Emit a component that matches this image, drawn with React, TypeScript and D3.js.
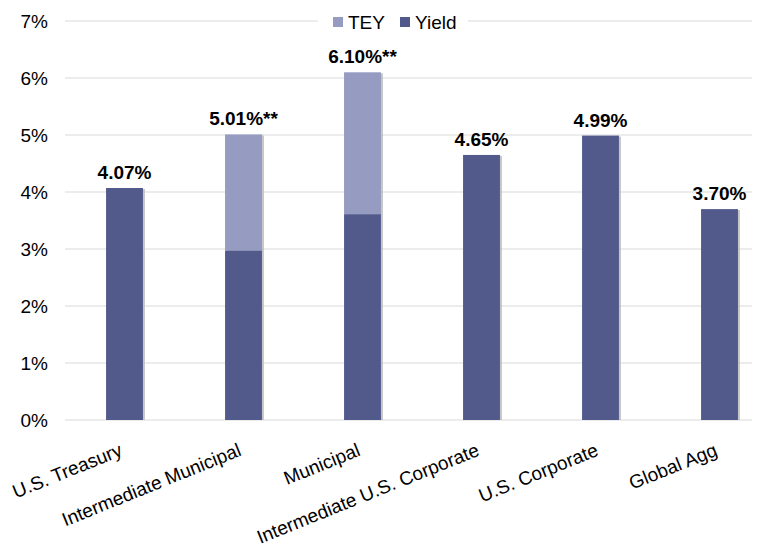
import React from "react";
import * as d3 from "d3";

const categories = [
  "U.S. Treasury",
  "Intermediate Municipal",
  "Municipal",
  "Intermediate U.S. Corporate",
  "U.S. Corporate",
  "Global Agg",
];
const yieldValues = [4.07, 2.97, 3.61, 4.65, 4.99, 3.7];
const teyValues = [null, 5.01, 6.1, null, null, null];
const valueLabels = ["4.07%", "5.01%**", "6.10%**", "4.65%", "4.99%", "3.70%"];
const yTicks = [0, 1, 2, 3, 4, 5, 6, 7];
const legendItems = ["TEY", "Yield"];

const W = 758;
const H = 550;
const YIELD_COLOR = "#525a8c";
const TEY_COLOR = "#959bc1";
const FONT = "Arial, 'Liberation Sans', sans-serif";

export default function App() {
  const y = d3.scaleLinear().domain([0, 7]).range([420, 21]);
  const x = d3
    .scaleBand<string>()
    .domain(categories)
    .range([65, 65 + 119 * categories.length])
    .paddingInner(0.69)
    .paddingOuter(0.345);
  const bw = x.bandwidth();
  const gridLeft = 65;
  const gridRight = 752;

  return (
    <svg width={W} height={H} style={{ position: "absolute", left: 0, top: 0, background: "#fff" }}>
      {yTicks.map((t) =>
        t === 7 ? (
          <g key={t}>
            <line x1={gridLeft} x2={318} y1={y(t)} y2={y(t)} stroke="#d9d9d9" strokeWidth={1} />
            <line x1={468} x2={gridRight} y1={y(t)} y2={y(t)} stroke="#d9d9d9" strokeWidth={1} />
          </g>
        ) : (
          <line key={t} x1={gridLeft} x2={gridRight} y1={y(t)} y2={y(t)} stroke="#d9d9d9" strokeWidth={1} />
        )
      )}
      {yTicks.map((t) => (
        <text
          key={"l" + t}
          x={48}
          y={y(t)}
          dy="0.35em"
          textAnchor="end"
          fontFamily={FONT}
          fontSize={19}
          fill="#000"
        >
          {t + "%"}
        </text>
      ))}
      {categories.map((c, i) => {
        const x0 = x(c)!;
        const yv = yieldValues[i];
        const tv = teyValues[i];
        const top = tv != null ? tv : yv;
        return (
          <g key={c}>
            <rect x={x0 + 2} y={y(top) + 1} width={bw} height={y(0) - y(top) - 1} fill="#b8b8b8" opacity={0.8} />
            {tv != null && (
              <rect x={x0} y={y(tv)} width={bw} height={y(yv) - y(tv)} fill={TEY_COLOR} />
            )}
            <rect x={x0} y={y(yv)} width={bw} height={y(0) - y(yv)} fill={YIELD_COLOR} />
            <text
              x={x0 + bw / 2}
              y={y(top) - 9}
              textAnchor="middle"
              fontFamily={FONT}
              fontSize={19}
              fontWeight="bold"
              fill="#000"
            >
              {valueLabels[i]}
            </text>
          </g>
        );
      })}
      {categories.map((c) => {
        const cx = x(c)! + bw / 2 - 1;
        const cy = 455;
        return (
          <text
            key={"x" + c}
            x={cx}
            y={cy}
            transform={`rotate(-22, ${cx}, ${cy})`}
            textAnchor="end"
            fontFamily={FONT}
            fontSize={19}
            fill="#000"
          >
            {c}
          </text>
        );
      })}
      <g>
        <rect x={333} y={17} width={10} height={10} fill={TEY_COLOR} />
        <text x={348} y={22} dy="0.35em" fontFamily={FONT} fontSize={19} fill="#000">
          {legendItems[0]}
        </text>
        <rect x={400} y={17} width={10} height={10} fill={YIELD_COLOR} />
        <text x={415} y={22} dy="0.35em" fontFamily={FONT} fontSize={19} fill="#000">
          {legendItems[1]}
        </text>
      </g>
    </svg>
  );
}
